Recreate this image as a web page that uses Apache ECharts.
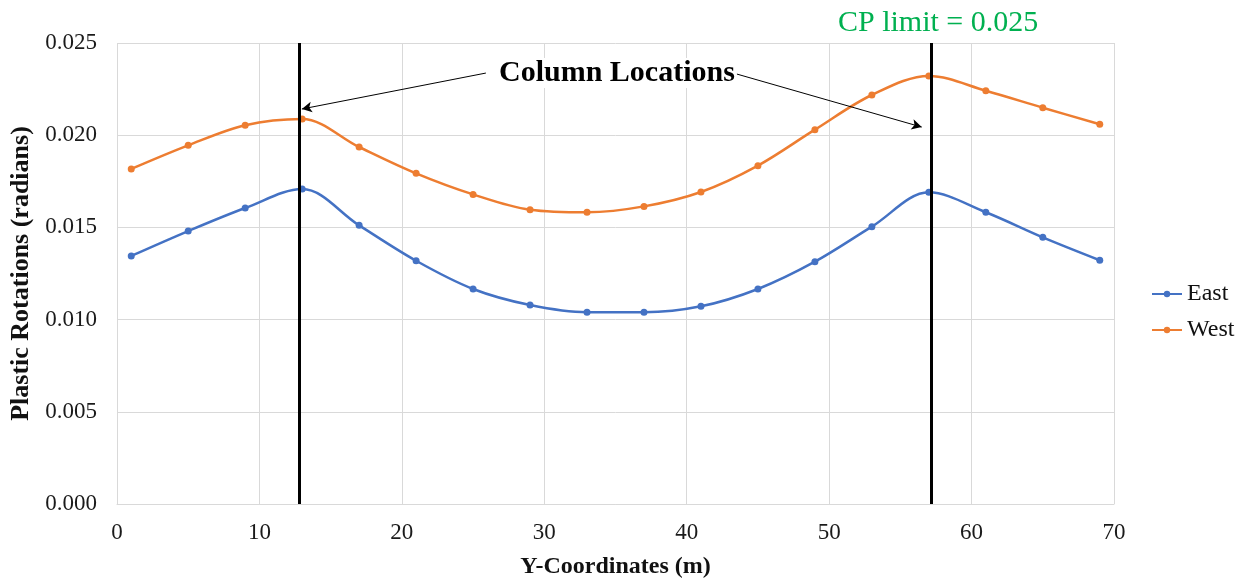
<!DOCTYPE html>
<html>
<head>
<meta charset="utf-8">
<script src="https://cdn.jsdelivr.net/npm/echarts@6/dist/echarts.min.js"></script>
<style>html,body{margin:0;padding:0;background:#fff;}#c{width:1244px;height:578px;}</style>
</head>
<body>
<div id="c"></div>
<script>
const xCoords = [1,5,9,13,17,21,25,29,33,37,41,45,49,53,57,61,65,69];
const eastValues = [0.01345,0.0148,0.01605,0.01708,0.01511,0.01319,0.01166,0.01079,0.0104,0.0104,0.01072,0.01166,0.01314,0.01504,0.0169,0.01582,0.01446,0.01322];
const westValues = [0.01817,0.01945,0.02054,0.02088,0.01936,0.01793,0.01679,0.01596,0.01582,0.01614,0.01692,0.01835,0.0203,0.02218,0.02321,0.02241,0.02149,0.02059];
const columnLocations = [12.8, 57.2];
const cpLimit = 0.025;
const arrowLines = [
  [[25.9, 0.02337], [12.98, 0.02142]],
  [[43.5, 0.02332], [56.5, 0.02044]]
];
const labelAnnotation = { text: 'Column Locations', x: 35.1, y: 0.02337 };
const limitText = 'CP limit = 0.025';

const font = '"Liberation Serif", "Times New Roman", serif';
const chart = echarts.init(document.getElementById('c'));
const toPairs = (vals) => xCoords.map((x, i) => [x, vals[i]]);

chart.setOption({
  animation: false,
  textStyle: { fontFamily: font },
  grid: { left: 117, right: 130, top: 43, bottom: 74, containLabel: false, outerBoundsMode: 'none' },
  legend: {
    orient: 'vertical', left: 1151, top: 282, padding: 0, itemWidth: 30, itemHeight: 8, itemGap: 12,
    textStyle: { fontFamily: font, fontSize: 24, color: '#111' },
    data: ['East', 'West']
  },
  xAxis: {
    type: 'value', min: 0, max: 70, interval: 10,
    name: 'Y-Coordinates (m)', nameLocation: 'middle', nameGap: 51,
    nameTextStyle: { fontFamily: font, fontSize: 24, fontWeight: 'bold', color: '#111' },
    axisLine: { show: true, lineStyle: { color: '#D9D9D9', width: 1 } },
    axisTick: { show: false },
    axisLabel: { fontFamily: font, fontSize: 23, color: '#1a1a1a', margin: 17 },
    splitLine: { show: true, lineStyle: { color: '#D9D9D9', width: 1 } }
  },
  yAxis: {
    type: 'value', min: 0, max: 0.025, interval: 0.005,
    name: 'Plastic Rotations (radians)', nameLocation: 'middle', nameGap: 75,
    nameTextStyle: { fontFamily: font, fontSize: 26, fontWeight: 'bold', color: '#111' },
    axisLine: { show: false },
    axisTick: { show: false },
    axisLabel: { fontFamily: font, fontSize: 23, color: '#1a1a1a', margin: 20, formatter: v => v.toFixed(3) },
    splitLine: { show: true, lineStyle: { color: '#D9D9D9', width: 1 } }
  },
  series: [
    {
      name: 'East', type: 'line', data: toPairs(eastValues), smooth: 0.34,
      symbol: 'circle', symbolSize: 7,
      lineStyle: { color: '#4472C4', width: 2.5 }, itemStyle: { color: '#4472C4' },
      z: 3
    },
    {
      name: 'West', type: 'line', data: toPairs(westValues), smooth: 0.34,
      symbol: 'circle', symbolSize: 7,
      lineStyle: { color: '#ED7D31', width: 2.5 }, itemStyle: { color: '#ED7D31' },
      z: 3
    },
    {
      name: 'annotations', type: 'line', data: [], z: 5,
      markLine: {
        silent: true, symbol: ['none', 'none'], animation: false,
        label: { show: false },
        data: [
          ...columnLocations.map(x => ({ xAxis: x, lineStyle: { color: '#000', width: 3, type: 'solid' } })),
          { yAxis: cpLimit, lineStyle: { color: '#00B050', width: 4, type: 'solid' } }
        ]
      }
    },
    {
      name: 'arrows', type: 'line', data: [], z: 6,
      markLine: {
        silent: true, symbol: ['none', 'arrow'], symbolSize: [8, 10], animation: false,
        label: { show: false },
        lineStyle: { color: '#000', width: 1, type: 'solid' },
        data: arrowLines.map(([a, b]) => [{ coord: a }, { coord: b }])
      }
    },
    {
      name: 'labels', type: 'scatter', data: [[labelAnnotation.x, labelAnnotation.y]], symbolSize: 0, z: 7,
      itemStyle: { opacity: 1 },
      label: {
        show: true, position: 'inside', formatter: labelAnnotation.text,
        fontFamily: font, fontSize: 30, fontWeight: 'bold', color: '#000', opacity: 1,
        textBorderWidth: 0, backgroundColor: '#fff', padding: [0, 2]
      }
    }
  ],
  graphic: [
    { type: 'text', left: 838, top: 8, style: { text: limitText, fontFamily: font, fontSize: 30, fill: '#00B050' } }
  ]
});
</script>
</body>
</html>
